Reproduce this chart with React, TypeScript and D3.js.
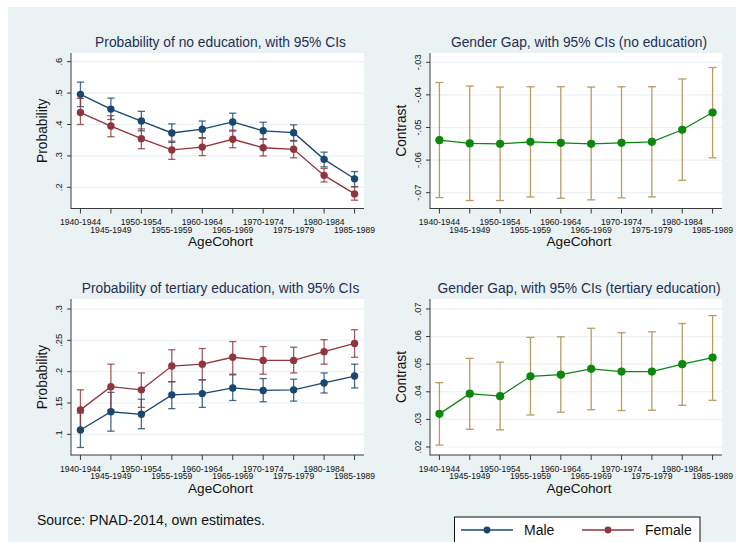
import React from 'react';
import * as d3 from 'd3';

// ---------- data ----------
const cohorts = ['1940-1944', '1945-1949', '1950-1954', '1955-1959', '1960-1964', '1965-1969', '1970-1974', '1975-1979', '1980-1984', '1985-1989'];

const noEduMale = [0.496, 0.449, 0.411, 0.373, 0.385, 0.408, 0.380, 0.374, 0.289, 0.227];
const noEduMaleLo = [0.457, 0.416, 0.380, 0.343, 0.358, 0.379, 0.353, 0.349, 0.265, 0.202];
const noEduMaleHi = [0.535, 0.484, 0.442, 0.402, 0.411, 0.436, 0.407, 0.399, 0.312, 0.250];
const noEduFemale = [0.438, 0.395, 0.355, 0.319, 0.328, 0.353, 0.326, 0.321, 0.238, 0.179];
const noEduFemaleLo = [0.400, 0.361, 0.323, 0.289, 0.301, 0.326, 0.300, 0.294, 0.217, 0.159];
const noEduFemaleHi = [0.483, 0.428, 0.386, 0.347, 0.356, 0.382, 0.354, 0.347, 0.260, 0.202];

const gapNoEdu = [-0.0539, -0.0549, -0.0550, -0.0544, -0.0547, -0.0550, -0.0547, -0.0544, -0.0507, -0.0454];
const gapNoEduLo = [-0.0715, -0.0724, -0.0724, -0.0713, -0.0717, -0.0722, -0.0716, -0.0713, -0.0662, -0.0593];
const gapNoEduHi = [-0.0362, -0.0373, -0.0376, -0.0375, -0.0375, -0.0376, -0.0375, -0.0375, -0.0351, -0.0316];

const terMale = [0.107, 0.136, 0.132, 0.163, 0.165, 0.174, 0.170, 0.171, 0.182, 0.193];
const terMaleLo = [0.079, 0.105, 0.109, 0.141, 0.143, 0.154, 0.152, 0.153, 0.166, 0.174];
const terMaleHi = [0.134, 0.167, 0.156, 0.184, 0.187, 0.195, 0.189, 0.188, 0.198, 0.212];
const terFemale = [0.139, 0.176, 0.171, 0.209, 0.212, 0.223, 0.218, 0.218, 0.232, 0.245];
const terFemaleLo = [0.107, 0.139, 0.143, 0.184, 0.187, 0.196, 0.196, 0.198, 0.212, 0.223];
const terFemaleHi = [0.171, 0.212, 0.198, 0.235, 0.237, 0.248, 0.240, 0.239, 0.251, 0.267];

const gapTer = [0.0320, 0.0393, 0.0384, 0.0456, 0.0462, 0.0483, 0.0473, 0.0473, 0.0500, 0.0524];
const gapTerLo = [0.0207, 0.0264, 0.0262, 0.0316, 0.0326, 0.0335, 0.0332, 0.0333, 0.0351, 0.0369];
const gapTerHi = [0.0433, 0.0521, 0.0507, 0.0597, 0.0599, 0.0630, 0.0614, 0.0617, 0.0647, 0.0676];

const ticksNoEdu = [0.2, 0.3, 0.4, 0.5, 0.6];
const ticksGapNoEdu = [-0.07, -0.06, -0.05, -0.04, -0.03];
const ticksTer = [0.1, 0.15, 0.2, 0.25, 0.3];
const ticksGapTer = [0.02, 0.03, 0.04, 0.05, 0.06, 0.07];

const legendLabels = ['Male', 'Female'];
const titles = [
  'Probability of no education, with 95% CIs',
  'Gender Gap, with 95% CIs (no education)',
  'Probability of tertiary education, with 95% CIs',
  'Gender Gap, with 95% CIs (tertiary education)',
];
const sourceNote = 'Source: PNAD-2014, own estimates.';

// ---------- styles ----------
const FONT = '"Liberation Sans", Arial, Helvetica, sans-serif';
const BG = '#eaf2f3';
const NAVY = '#1a476f';
const MAROON = '#90353b';
const GREEN = '#0b870b';
const SAND = '#b49e62';
const TITLE = '#1f2f56';

type Series = { v: number[]; lo: number[]; hi: number[]; color: string; ciColor: string; r: number; cap: number };

const fmt = (v: number) => String(+v.toFixed(3)).replace(/^(-?)0\./, '$1.');

function Panel(props: {
  x0: number; x1: number; y0: number; y1: number; domain: [number, number];
  ticks: number[]; title: string; ytitle: string; series: Series[]; titleY: number;
}) {
  const { x0, x1, y0, y1, domain, ticks, title, ytitle, series, titleY } = props;
  const x = d3.scalePoint<string>().domain(cohorts).range([x0, x1]).padding(0.31);
  const y = d3.scaleLinear().domain(domain).range([y1, y0]);
  const line = d3.line<number>().x((_, i) => x(cohorts[i])!).y((d) => y(d));
  return (
    <g>
      <rect x={x0} y={y0} width={x1 - x0} height={y1 - y0} fill="#fff" />
      {ticks.map((t) => (
        <line key={'g' + t} x1={x0} x2={x1} y1={y(t)} y2={y(t)} stroke={BG} strokeWidth={1.2} />
      ))}
      {/* CIs */}
      {series.map((s, si) => (
        <g key={'ci' + si} stroke={s.ciColor} strokeWidth={1.3} fill="none">
          {cohorts.map((c, i) => {
            const cx = x(c)!;
            return (
              <g key={c}>
                <line x1={cx} x2={cx} y1={y(s.lo[i])} y2={y(s.hi[i])} />
                <line x1={cx - s.cap} x2={cx + s.cap} y1={y(s.lo[i])} y2={y(s.lo[i])} />
                <line x1={cx - s.cap} x2={cx + s.cap} y1={y(s.hi[i])} y2={y(s.hi[i])} />
              </g>
            );
          })}
        </g>
      ))}
      {series.map((s, si) => (
        <g key={'ln' + si}>
          <path d={line(s.v)!} fill="none" stroke={s.color} strokeWidth={1.3} />
          {s.v.map((d, i) => (
            <circle key={i} cx={x(cohorts[i])!} cy={y(d)} r={s.r} fill={s.color} />
          ))}
        </g>
      ))}
      {/* axes */}
      <line x1={x0} x2={x0} y1={y0} y2={y1 + 0.5} stroke="#3a3a3a" strokeWidth={1} />
      <line x1={x0} x2={x1} y1={y1} y2={y1} stroke="#3a3a3a" strokeWidth={1} />
      {ticks.map((t) => (
        <g key={'t' + t}>
          <line x1={x0 - 4} x2={x0} y1={y(t)} y2={y(t)} stroke="#3a3a3a" />
          <text
            transform={`translate(${x0 - 9.5},${y(t)}) rotate(-90)`}
            textAnchor="middle" fontSize={9.3} fill="#111" fontFamily={FONT}
          >{fmt(t)}</text>
        </g>
      ))}
      {cohorts.map((c, i) => (
        <g key={'x' + c}>
          <line x1={x(c)!} x2={x(c)!} y1={y1} y2={y1 + 5} stroke="#3a3a3a" />
          <text x={x(c)!} y={y1 + (i % 2 === 0 ? 16.5 : 24.2)} textAnchor="middle" fontSize={8.6} fill="#111" fontFamily={FONT}>{c}</text>
        </g>
      ))}
      <text x={(x0 + x1) / 2 + 3} y={titleY} textAnchor="middle" fontSize={13.8} fill={TITLE} fontFamily={FONT}>{title}</text>
      <text x={(x0 + x1) / 2 + 3} y={y1 + 37.5} textAnchor="middle" fontSize={13.6} fill="#111" fontFamily={FONT}>AgeCohort</text>
      <text transform={`translate(${x0 - 24},${(y0 + y1) / 2}) rotate(-90)`} textAnchor="middle" fontSize={13.8} fill="#111" fontFamily={FONT}>{ytitle}</text>
    </g>
  );
}

export default function App() {
  const male = (v: number[], lo: number[], hi: number[]): Series => ({ v, lo, hi, color: NAVY, ciColor: 'rgba(26,71,111,0.8)', r: 3.7, cap: 3.6 });
  const female = (v: number[], lo: number[], hi: number[]): Series => ({ v, lo, hi, color: MAROON, ciColor: 'rgba(144,53,59,0.8)', r: 3.7, cap: 3.6 });
  const gap = (v: number[], lo: number[], hi: number[]): Series => ({ v, lo, hi, color: GREEN, ciColor: SAND, r: 4.1, cap: 4 });
  const legendColors = [NAVY, MAROON];
  const legendX = [461, 582];
  return (
    <svg width={736} height={542} style={{ position: 'absolute', left: 0, top: 0, display: 'block' }}>
      <rect x={0} y={0} width={736} height={542} fill="#fff" />
      <rect x={8} y={7} width={728} height={535} fill={BG} />
      <Panel x0={71} x1={364} y0={53} y1={208.5} domain={[0.1325, 0.6277]} ticks={ticksNoEdu}
        title={titles[0]} ytitle="Probability" titleY={47}
        series={[male(noEduMale, noEduMaleLo, noEduMaleHi), female(noEduFemale, noEduFemaleLo, noEduFemaleHi)]} />
      <Panel x0={430} x1={722} y0={53} y1={208.5} domain={[-0.07485, -0.02715]} ticks={ticksGapNoEdu}
        title={titles[1]} ytitle="Contrast" titleY={47}
        series={[gap(gapNoEdu, gapNoEduLo, gapNoEduHi)]} />
      <Panel x0={71} x1={364} y0={299} y1={455} domain={[0.067, 0.316]} ticks={ticksTer}
        title={titles[2]} ytitle="Probability" titleY={292.5}
        series={[male(terMale, terMaleLo, terMaleHi), female(terFemale, terFemaleLo, terFemaleHi)]} />
      <Panel x0={430} x1={722} y0={299} y1={455} domain={[0.0171, 0.0736]} ticks={ticksGapTer}
        title={titles[3]} ytitle="Contrast" titleY={292.5}
        series={[gap(gapTer, gapTerLo, gapTerHi)]} />
      <text x={37} y={525} fontSize={14} fill="#111" fontFamily={FONT}>{sourceNote}</text>
      <rect x={454.5} y={517} width={245.5} height={40} fill="#fff" stroke="#111" strokeWidth={1} />
      {legendLabels.map((l, i) => (
        <g key={l}>
          <line x1={legendX[i]} x2={legendX[i] + 52} y1={530} y2={530} stroke={legendColors[i]} strokeWidth={1.3} />
          <circle cx={legendX[i] + 26} cy={530} r={3.4} fill={legendColors[i]} />
          <text x={legendX[i] + 63} y={535} fontSize={14} fill="#111" fontFamily={FONT}>{l}</text>
        </g>
      ))}
    </svg>
  );
}
